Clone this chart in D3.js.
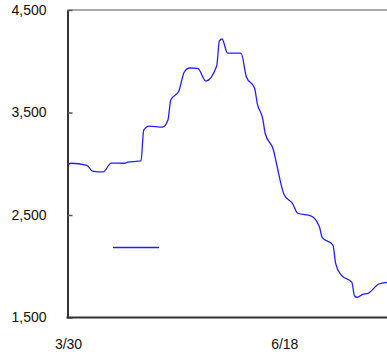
<!DOCTYPE html>
<html>
<head>
<meta charset="utf-8">
<script src="https://cdn.jsdelivr.net/npm/d3@7"></script>
<style>
  body { margin: 0; background: #fff; }
  svg { display: block; font-family: "Liberation Sans", Arial, sans-serif; }
</style>
</head>
<body>
<div id="chart"></div>
<script>
// dates (M/D, 2020) and values
var dates = ["3/30", "3/31", "4/6", "4/8", "4/12", "4/15", "4/20", "4/21", "4/26", "4/27",
    "4/29", "5/4", "5/6", "5/7", "5/10", "5/12", "5/14", "5/17", "5/20", "5/24",
    "5/25", "5/26", "5/28", "6/2", "6/4", "6/7", "6/8", "6/10", "6/11", "6/14",
    "6/15", "6/18", "6/21", "6/23", "6/28", "7/1", "7/2", "7/6", "7/7", "7/9",
    "7/13", "7/14", "7/15", "7/17", "7/19", "7/23", "7/26"];
var values = [2990, 3005, 2985, 2929, 2920, 3007, 3005, 3015, 3027, 3329,
    3368, 3358, 3430, 3622, 3710, 3895, 3934, 3930, 3807, 3954,
    4198, 4217, 4080, 4080, 3846, 3739, 3590, 3443, 3290, 3134,
    3017, 2695, 2614, 2517, 2490, 2386, 2282, 2207, 2029, 1915,
    1843, 1710, 1697, 1726, 1736, 1827, 1843];
var yTicks = [1500, 2500, 3500, 4500];
var xTicks = ["3/30", "6/18"];

var svgW = 387;
var svgH = 356;

var parse = d3.timeParse("%m/%d/%Y");
function toDate(s) { return parse(s + "/2020"); }

var data = dates.map(function(d, i) {
    return { date: toDate(d), value: values[i] };
});

// plot box
var plot = { left: 67.5, top: 10, right: 387, bottom: 317.5 };

var svg = d3.select("#chart")
    .append("svg")
    .attr("width", svgW)
    .attr("height", svgH);

var xScale = d3.scaleTime()
    .domain([data[0].date, data[data.length - 1].date])
    .range([plot.left + 0.5, plot.right]);
var yScale = d3.scaleLinear()
    .domain([1500, 4500])
    .range([plot.bottom, plot.top]);

// top border
svg.append("line")
    .attr("x1", plot.left)
    .attr("x2", plot.right)
    .attr("y1", plot.top)
    .attr("y2", plot.top)
    .attr("stroke", "#8c8c8c")
    .attr("stroke-width", 1.5);

var yAxis = d3.axisLeft(yScale)
    .tickValues(yTicks)
    .tickSizeInner(-5)
    .tickSizeOuter(0)
    .tickPadding(21)
    .tickFormat(d3.format(","));
var yG = svg.append("g")
    .attr("transform", "translate(" + plot.left + ",0)")
    .call(yAxis);
yG.select(".domain").attr("stroke", "#333").attr("stroke-width", 2);
yG.selectAll(".tick line").attr("stroke", "#555").attr("stroke-width", 1.5);
yG.selectAll("text").attr("font-size", 14).attr("fill", "#111")
    .attr("font-family", "Liberation Sans, Arial, sans-serif");

var xAxis = d3.axisBottom(xScale)
    .tickValues(xTicks.map(toDate))
    .tickSize(0)
    .tickPadding(22)
    .tickFormat(d3.timeFormat("%-m/%-d"));
var xG = svg.append("g")
    .attr("transform", "translate(0," + plot.bottom + ")")
    .call(xAxis);
xG.select(".domain").attr("stroke", "#333").attr("stroke-width", 2)
    .attr("d", "M" + (plot.left - 1) + ",0H" + plot.right);
xG.selectAll("text").attr("font-size", 14).attr("fill", "#111")
    .attr("font-family", "Liberation Sans, Arial, sans-serif");

var line = d3.line()
    .curve(d3.curveMonotoneX)
    .x(function(d) { return xScale(d.date); })
    .y(function(d) { return yScale(d.value); });

svg.append("path")
    .datum(data)
    .attr("fill", "none")
    .attr("stroke", "#2020ff")
    .attr("stroke-width", 1.3)
    .attr("stroke-linejoin", "round")
    .attr("d", line);

// legend swatch (no label)
svg.append("line")
    .attr("x1", 113)
    .attr("x2", 159)
    .attr("y1", 247.5)
    .attr("y2", 247.5)
    .attr("stroke", "#2020ff")
    .attr("stroke-width", 1.3);
</script>
</body>
</html>
